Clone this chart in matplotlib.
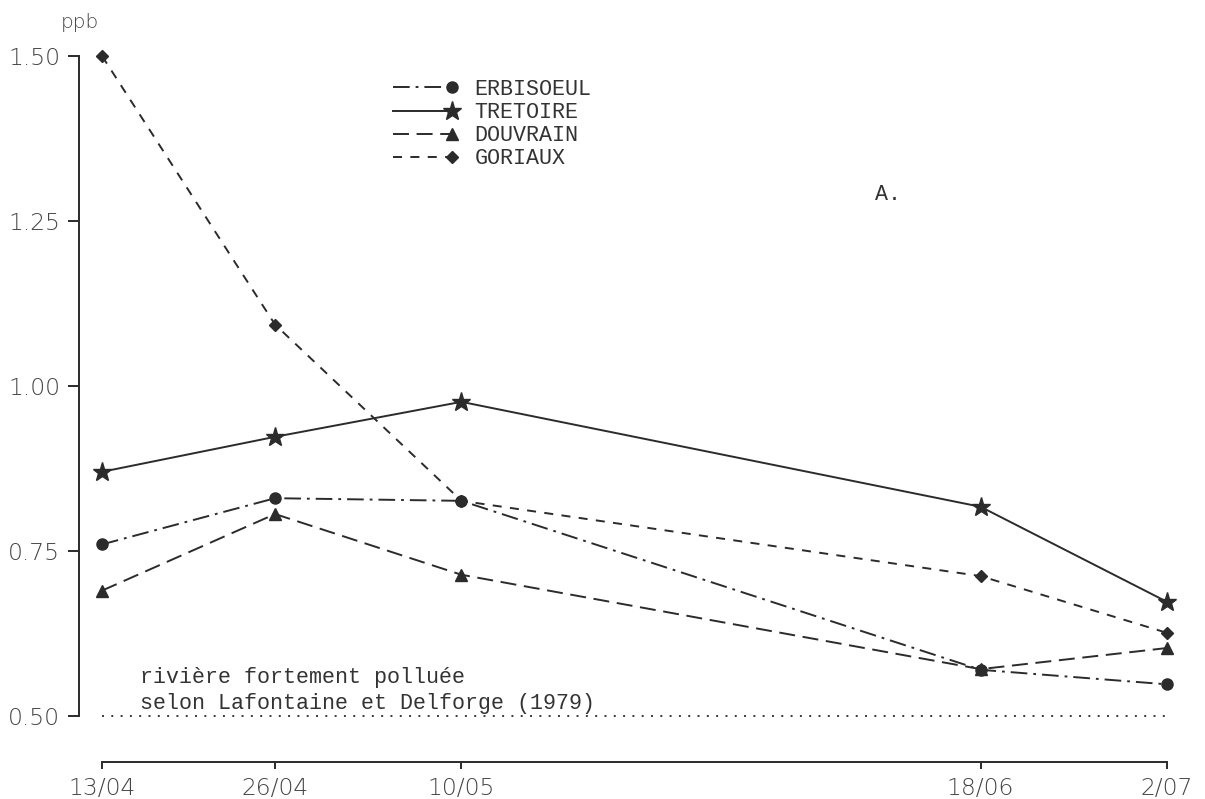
import pandas as pd
import numpy as np
import matplotlib
matplotlib.use('Agg')
import matplotlib.pyplot as plt
import matplotlib.dates as mdates
from matplotlib.lines import Line2D
from matplotlib.legend_handler import HandlerLine2D

# dates de prélèvement et teneurs (ppb)
dates_txt = ['13/04', '26/04', '10/05', '18/06', '2/07']
erbisoeul = [0.760, 0.830, 0.826, 0.570, 0.548]
tretoire = [0.870, 0.923, 0.976, 0.817, 0.673]
douvrain = [0.690, 0.806, 0.714, 0.571, 0.603]
goriaux = [1.500, 1.093, 0.826, 0.712, 0.626]
seuil = 0.50
y_ticks = [0.50, 0.75, 1.00, 1.25, 1.50]

dates = mdates.date2num(pd.to_datetime([d + '/1980' for d in dates_txt], format='%d/%m/%Y'))

plt.rcParams['lines.scale_dashes'] = False

W, H = 1205, 799
fig = plt.figure(figsize=(W / 100, H / 100), dpi=100)
ax = fig.add_axes([79 / W, 37 / H, 1111 / W, 706 / H])

ink = '#2b2b2b'
lw = 1.4

# trait mixte, plein, tirets longs, tirets courts
ax.plot(dates, erbisoeul, color=ink, lw=lw, dashes=(12, 4.3, 2.0, 4.3),
        marker='o', ms=8, label='ERBISOEUL', clip_on=False)
ax.plot(dates, douvrain, color=ink, lw=lw, dashes=(11.5, 5.5),
        marker='^', ms=8.5, label='DOUVRAIN', clip_on=False)
ax.plot(dates, goriaux, color=ink, lw=lw, dashes=(6.5, 6.0),
        marker='D', ms=5.8, label='GORIAUX', clip_on=False)
ax.plot(dates, tretoire, color=ink, lw=lw, linestyle='-',
        marker='*', ms=14, label='TRETOIRE', clip_on=False)

# ligne de référence
ax.hlines(seuil, dates[0], dates[-1], colors=ink, lw=1.3,
          linestyles=[(0, (1.4, 5.3))])

pad = 1.73
ax.set_xlim(dates[0] - pad, dates[-1] + pad)
ax.set_ylim(0.5 - 46 / 660, 1.5)

for s in ['top', 'right']:
    ax.spines[s].set_visible(False)
ax.spines['left'].set_bounds(0.5, 1.5)
ax.spines['bottom'].set_bounds(dates[0], dates[-1])
for s in ['left', 'bottom']:
    ax.spines[s].set_color(ink)
    ax.spines[s].set_linewidth(1.4)

ax.set_xticks(dates)
ax.set_xticklabels(dates_txt)
ax.set_yticks(y_ticks)
ax.set_yticklabels(['%.2f' % v for v in y_ticks])
ax.tick_params(axis='y', direction='out', length=8, width=1.4, color=ink,
               pad=5.5, labelsize=16.8, labelcolor='#444444')
ax.tick_params(axis='x', direction='out', length=5, width=1.4, color=ink,
               pad=6, labelsize=16.8, labelcolor='#444444')
for t in ax.get_xticklabels() + ax.get_yticklabels():
    t.set_fontfamily('DejaVu Sans')
    t.set_fontweight('light')


class EndMarker(HandlerLine2D):
    # symbole placé au bout du trait, comme sur l'original
    def create_artists(self, *args, **kwargs):
        arts = super().create_artists(*args, **kwargs)
        for a in arts:
            a.set_markevery([2])
        return arts


handles, labels = ax.get_legend_handles_labels()
order = ['ERBISOEUL', 'TRETOIRE', 'DOUVRAIN', 'GORIAUX']
hmap = dict(zip(labels, handles))
leg = ax.legend([hmap[k] for k in order], order,
                loc='upper left', bbox_to_anchor=(393 / W, 1 - 79 / H),
                bbox_transform=fig.transFigure, frameon=False,
                borderpad=0, borderaxespad=0, labelspacing=0.1,
                handlelength=2.7, handletextpad=1.05, numpoints=1,
                prop={'family': 'Liberation Mono', 'size': 15.6},
                handler_map={Line2D: EndMarker()})
for t in leg.get_texts():
    t.set_color('#333333')

mono = {'family': 'Liberation Mono', 'size': 15.6, 'color': '#333333'}
fig.text(140 / W, 1 - 683 / H, 'rivière fortement polluée', va='baseline', **mono)
fig.text(140 / W, 1 - 709 / H, 'selon Lafontaine et Delforge (1979)', va='baseline', **mono)
fig.text(875 / W, 1 - 194 / H, 'A.', va='center', **mono)
fig.text(80 / W, 1 - 22 / H, 'ppb', ha='center', va='center',
         fontsize=14.5, color='#444444', family='DejaVu Sans', fontweight='light')

fig.savefig('out.png', dpi=100)
